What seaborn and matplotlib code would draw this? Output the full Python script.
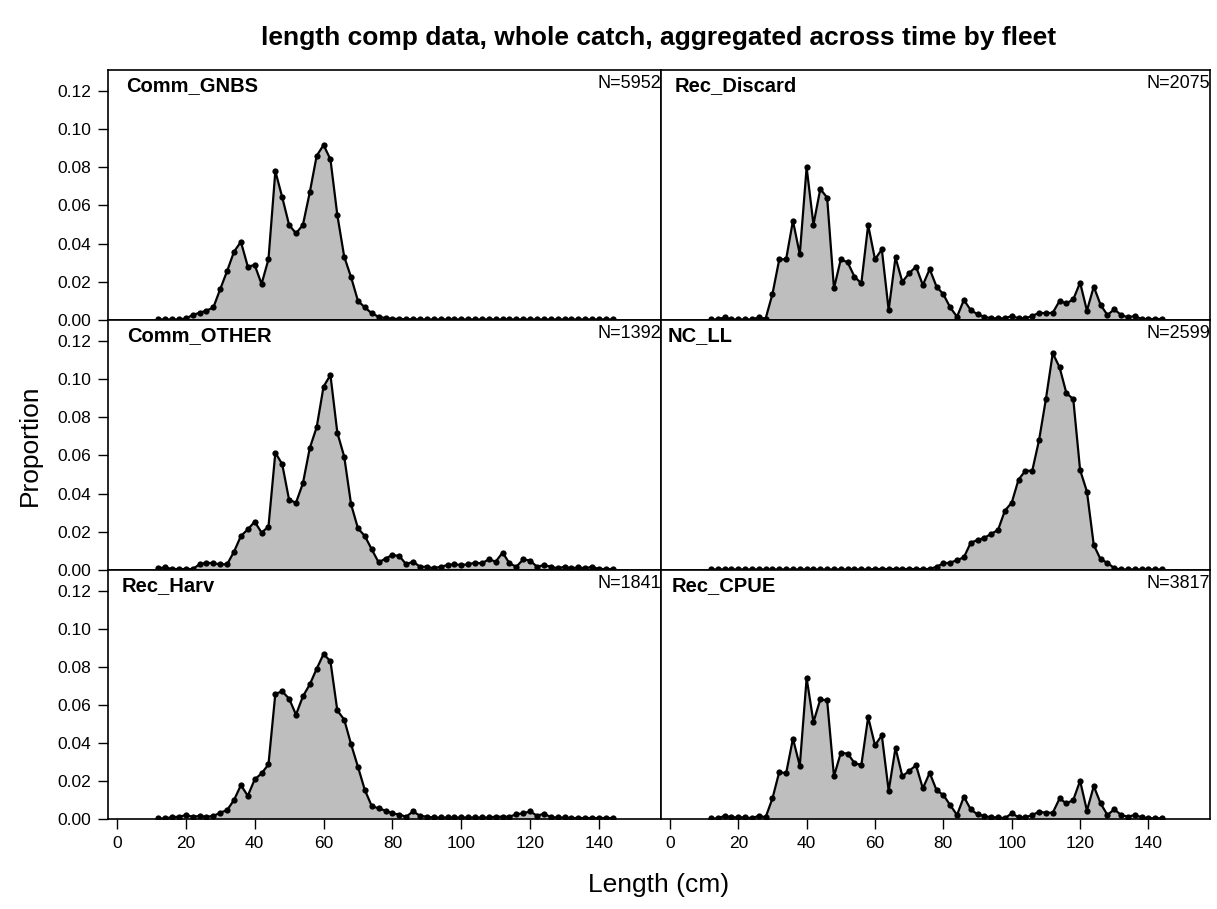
import numpy as np
import pandas as pd
import seaborn as sns
import matplotlib.pyplot as plt

sns.set_style("ticks")
plt.rcParams['font.family'] = ['Liberation Sans', 'DejaVu Sans']
plt.rcParams['text.color'] = 'black'
plt.rcParams['xtick.color'] = 'black'
plt.rcParams['ytick.color'] = 'black'

# length bins (cm)
lengths = np.arange(12, 146, 2)

fleets = ["Comm_GNBS", "Rec_Discard", "Comm_OTHER", "NC_LL", "Rec_Harv", "Rec_CPUE"]
n_samples = [5952, 2075, 1392, 2599, 1841, 3817]

comm_gnbs = [0.0003, 0.0003, 0.0003, 0.0003, 0.0008, 0.0026, 0.0038, 0.0049, 0.0066, 0.0162,
             0.0257, 0.0358, 0.0410, 0.0280, 0.0288, 0.0189, 0.0318, 0.0780, 0.0643, 0.0498,
             0.0454, 0.0498, 0.0669, 0.0860, 0.0917, 0.0842, 0.0550, 0.0332, 0.0224, 0.0100,
             0.0066, 0.0035, 0.0017, 0.0010, 0.0007, 0.0005, 0.0004, 0.0004, 0.0003, 0.0003,
             0.0003, 0.0003, 0.0003, 0.0003, 0.0003, 0.0003, 0.0003, 0.0003, 0.0003, 0.0003,
             0.0003, 0.0003, 0.0003, 0.0003, 0.0003, 0.0003, 0.0003, 0.0003, 0.0003, 0.0003,
             0.0003, 0.0003, 0.0003, 0.0003, 0.0003, 0.0003, 0.0003]

rec_discard = [0.0003, 0.0003, 0.0014, 0.0003, 0.0003, 0.0003, 0.0003, 0.0014, 0.0007, 0.0136,
               0.0318, 0.0318, 0.0520, 0.0344, 0.0800, 0.0500, 0.0687, 0.0641, 0.0166, 0.0318,
               0.0302, 0.0227, 0.0192, 0.0498, 0.0318, 0.0370, 0.0052, 0.0328, 0.0200, 0.0245,
               0.0280, 0.0183, 0.0267, 0.0175, 0.0135, 0.0066, 0.0017, 0.0105, 0.0052, 0.0030,
               0.0017, 0.0009, 0.0009, 0.0009, 0.0021, 0.0009, 0.0009, 0.0021, 0.0038, 0.0035,
               0.0038, 0.0100, 0.0087, 0.0108, 0.0196, 0.0049, 0.0175, 0.0079, 0.0026, 0.0056,
               0.0026, 0.0014, 0.0021, 0.0005, 0.0005, 0.0005, 0.0005]

comm_other = [0.0009, 0.0014, 0.0005, 0.0005, 0.0005, 0.0005, 0.0030, 0.0038, 0.0035, 0.0030,
              0.0030, 0.0096, 0.0178, 0.0213, 0.0253, 0.0196, 0.0227, 0.0615, 0.0554, 0.0367,
              0.0353, 0.0454, 0.0639, 0.0748, 0.0961, 0.1022, 0.0720, 0.0594, 0.0344, 0.0218,
              0.0178, 0.0108, 0.0040, 0.0060, 0.0079, 0.0073, 0.0030, 0.0044, 0.0017, 0.0017,
              0.0009, 0.0017, 0.0026, 0.0030, 0.0026, 0.0030, 0.0038, 0.0035, 0.0056, 0.0044,
              0.0091, 0.0035, 0.0017, 0.0056, 0.0049, 0.0017, 0.0026, 0.0017, 0.0009, 0.0017,
              0.0009, 0.0014, 0.0009, 0.0017, 0.0005, 0.0005, 0.0005]

nc_ll = [0.0003, 0.0003, 0.0003, 0.0003, 0.0003, 0.0003, 0.0003, 0.0003, 0.0003, 0.0003,
         0.0003, 0.0003, 0.0003, 0.0003, 0.0003, 0.0003, 0.0003, 0.0003, 0.0003, 0.0003,
         0.0003, 0.0003, 0.0003, 0.0003, 0.0005, 0.0005, 0.0005, 0.0005, 0.0005, 0.0005,
         0.0005, 0.0005, 0.0005, 0.0017, 0.0035, 0.0038, 0.0052, 0.0066, 0.0143, 0.0157,
         0.0169, 0.0189, 0.0210, 0.0311, 0.0353, 0.0474, 0.0520, 0.0520, 0.0681, 0.0896,
         0.1136, 0.1062, 0.0926, 0.0896, 0.0524, 0.0411, 0.0131, 0.0056, 0.0038, 0.0009,
         0.0003, 0.0003, 0.0003, 0.0003, 0.0003, 0.0003, 0.0003]

rec_harv = [0.0003, 0.0003, 0.0010, 0.0012, 0.0020, 0.0012, 0.0016, 0.0012, 0.0016, 0.0033,
            0.0047, 0.0100, 0.0178, 0.0122, 0.0208, 0.0240, 0.0287, 0.0659, 0.0671, 0.0633,
            0.0549, 0.0645, 0.0708, 0.0790, 0.0868, 0.0830, 0.0571, 0.0523, 0.0393, 0.0274,
            0.0152, 0.0068, 0.0056, 0.0044, 0.0030, 0.0023, 0.0012, 0.0040, 0.0017, 0.0012,
            0.0008, 0.0008, 0.0008, 0.0008, 0.0008, 0.0008, 0.0008, 0.0008, 0.0008, 0.0012,
            0.0012, 0.0012, 0.0025, 0.0030, 0.0040, 0.0017, 0.0028, 0.0010, 0.0008, 0.0008,
            0.0005, 0.0005, 0.0005, 0.0005, 0.0005, 0.0005, 0.0005]

rec_cpue = [0.0003, 0.0003, 0.0017, 0.0009, 0.0009, 0.0009, 0.0004, 0.0017, 0.0009, 0.0108,
            0.0248, 0.0240, 0.0423, 0.0280, 0.0741, 0.0510, 0.0629, 0.0624, 0.0225, 0.0348,
            0.0344, 0.0295, 0.0283, 0.0536, 0.0388, 0.0440, 0.0148, 0.0374, 0.0225, 0.0253,
            0.0283, 0.0161, 0.0243, 0.0152, 0.0126, 0.0073, 0.0021, 0.0117, 0.0051, 0.0024,
            0.0016, 0.0009, 0.0009, 0.0004, 0.0030, 0.0009, 0.0009, 0.0021, 0.0038, 0.0033,
            0.0033, 0.0108, 0.0082, 0.0100, 0.0201, 0.0044, 0.0173, 0.0082, 0.0021, 0.0051,
            0.0021, 0.0012, 0.0021, 0.0009, 0.0004, 0.0004, 0.0004]

series = [comm_gnbs, rec_discard, comm_other, nc_ll, rec_harv, rec_cpue]

# long table for seaborn
frames = []
for fleet, vals in zip(fleets, series):
    frames.append(pd.DataFrame({"fleet": fleet, "length": lengths, "proportion": vals}))
datos = pd.concat(frames, ignore_index=True)

W, H = 1217, 909
fig = plt.figure(figsize=(W / 100, H / 100), dpi=100)

col_left = [108, 661]
col_right = [661, 1210]
row_top = [70, 320, 570]
row_bot = [320, 570, 819]
label_dx = [18, 14, 19, 7, 14, 11]  # px from panel edge to the fleet name

for i, fleet in enumerate(fleets):
    r, c = i // 2, i % 2
    x0, x1 = col_left[c], col_right[c]
    y0, y1 = row_top[r], row_bot[r]
    pw, ph = x1 - x0, y1 - y0
    ax = fig.add_axes([x0 / W, 1 - y1 / H, pw / W, ph / H])
    sub = datos[datos["fleet"] == fleet]
    ax.fill_between(sub["length"], 0, sub["proportion"], color="#bebebe", lw=0)
    sns.lineplot(data=sub, x="length", y="proportion", ax=ax, color="black",
                 lw=1.6, marker="o", markersize=4.5, markeredgewidth=0)
    ax.set_xlim(-2.6, 158)
    ax.set_ylim(0, 0.131)
    ax.set_xlabel("")
    ax.set_ylabel("")
    for s in ax.spines.values():
        s.set_linewidth(1.2)
        s.set_color("black")
    ax.tick_params(direction="out", length=7, width=1, labelsize=12.5, color="black", pad=5)
    ax.set_yticks([0, 0.02, 0.04, 0.06, 0.08, 0.10, 0.12])
    ax.set_xticks(range(0, 141, 20))
    if c == 0:
        ax.set_yticklabels(["0.00", "0.02", "0.04", "0.06", "0.08", "0.10", "0.12"])
    else:
        ax.tick_params(axis="y", left=False, labelleft=False)
    if r < 2:
        ax.tick_params(axis="x", bottom=False, labelbottom=False)
    ax.text(label_dx[i] / pw, 1 - 6 / ph, fleet, transform=ax.transAxes, ha="left", va="top",
            fontsize=14.5, fontweight="bold")
    ax.text(1.0, 1 - 5 / ph, "N=%d" % n_samples[i], transform=ax.transAxes, ha="right", va="top",
            fontsize=13)

fig.text(659 / W, 1 - 38 / H, "length comp data, whole catch, aggregated across time by fleet",
         ha="center", va="center", fontsize=19, fontweight="bold")
fig.text(30 / W, 1 - 445 / H, "Proportion", rotation=90, ha="center", va="center", fontsize=19)
fig.text(659 / W, 1 - 885 / H, "Length (cm)", ha="center", va="center", fontsize=19)

fig.savefig("out.png", dpi=100)
